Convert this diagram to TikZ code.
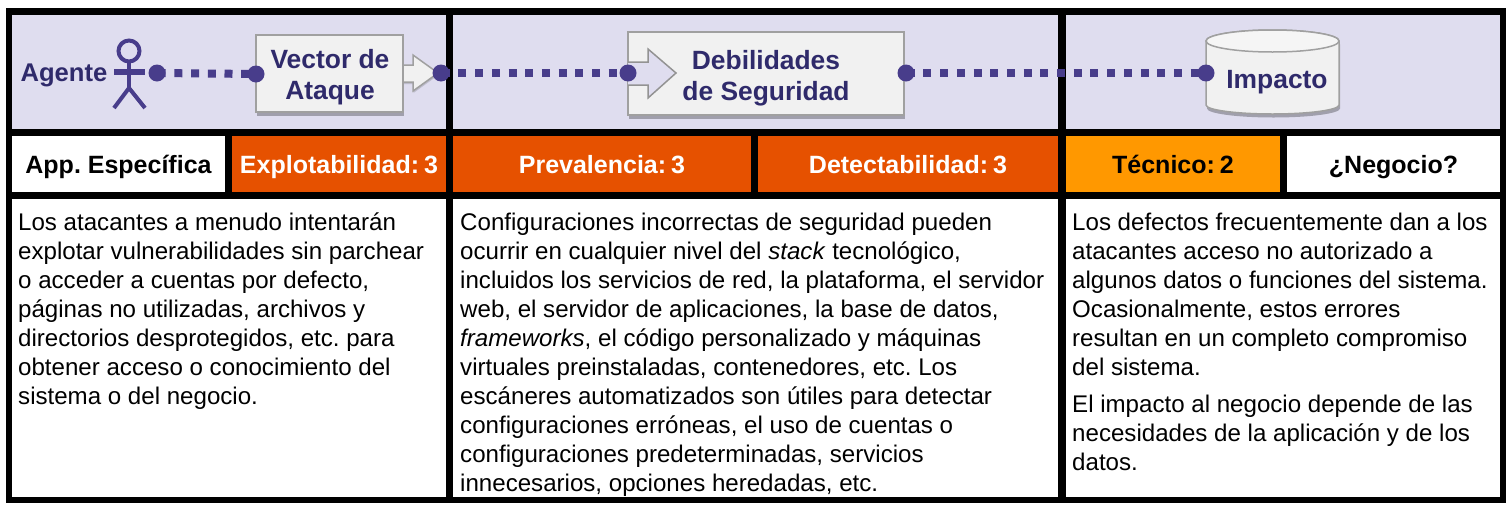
\documentclass[tikz,border=0pt]{standalone}
\usepackage{fontspec}
\setmainfont{Liberation Sans}
\usetikzlibrary{shadows}
\definecolor{bandblue}{HTML}{DFDDEF}
\definecolor{inkblue}{HTML}{2F2A6B}
\definecolor{dotblue}{HTML}{483D8B}
\definecolor{boxgray}{HTML}{F1F1F1}
\definecolor{edgegray}{HTML}{A0A0A0}
\definecolor{hotred}{HTML}{E65100}
\definecolor{amber}{HTML}{FF9800}
\newcommand{\scoregap}{\hspace{5pt}}
\tikzset{
  band/.style={fill=bandblue,draw=none},
  cell/.style={minimum height=56pt,inner sep=0pt,text height=20pt,text depth=2pt,font=\fontsize{25}{30}\selectfont\bfseries\frenchspacing},
  title/.style={text=inkblue,align=center,inner sep=0pt,font=\fontsize{26.4}{31}\selectfont\bfseries},
  body/.style={anchor=north west,align=left,inner sep=0pt,font=\fontsize{24.1}{29}\selectfont\frenchspacing},
  shade/.style={drop shadow={shadow xshift=1pt,shadow yshift=-3.5pt,opacity=.28,fill=black}},
  pin/.style={circle,fill=dotblue,minimum size=17pt,inner sep=0pt},
  dotline/.style={dotblue,line width=8pt,dash pattern=on 8pt off 8.7pt,dash phase=16pt},
  actor/.style={dotblue,line width=4pt}
}
\begin{document}
\begin{tikzpicture}[x=1pt,y=-1pt]
\useasboundingbox (0,0) rectangle (1512,509);
\fill[white] (0,0) rectangle (1512,509);
\fill[black] (6,8) rectangle (1506,503);
% top band
\fill[band] (12,15) rectangle (446,129);
\fill[band] (453,15) rectangle (1058,129);
\fill[band] (1066,15) rectangle (1500,129);
% score row
\node[cell,fill=white,minimum width=213pt] (app) at (118.5,164) {App. Específica};
\node[cell,fill=hotred,text=white,minimum width=214pt] (explot) at (339,164) {Explotabilidad:\scoregap 3};
\node[cell,fill=hotred,text=white,minimum width=298pt] (preval) at (602,164) {Prevalencia:\scoregap 3};
\node[cell,fill=hotred,text=white,minimum width=300pt] (detect) at (908,164) {Detectabilidad:\scoregap 3};
\node[cell,fill=amber,minimum width=214pt] (tecnico) at (1173,164) {Técnico:\scoregap 2};
\node[cell,fill=white,minimum width=213pt] (negocio) at (1393.5,164) {¿Negocio?};
% text row
\fill[white] (12,199) rectangle (446,497);
\fill[white] (453,199) rectangle (1058,497);
\fill[white] (1066,199) rectangle (1500,497);
\node[body] (textA) at (18,213) {Los atacantes a menudo intentarán\\
explotar vulnerabilidades sin parchear\\
o acceder a cuentas por defecto,\\
páginas no utilizadas, archivos y\\
directorios desprotegidos, etc. para\\
obtener acceso o conocimiento del\\
sistema o del negocio.};
\node[body] (textB) at (460,213) {Configuraciones incorrectas de seguridad pueden\\
ocurrir en cualquier nivel del \textit{stack} tecnológico,\\
incluidos los servicios de red, la plataforma, el servidor\\
web, el servidor de aplicaciones, la base de datos,\\
\textit{frameworks}, el código personalizado y máquinas\\
virtuales preinstaladas, contenedores, etc. Los\\
escáneres automatizados son útiles para detectar\\
configuraciones erróneas, el uso de cuentas o\\
configuraciones predeterminadas, servicios\\
innecesarios, opciones heredadas, etc.};
\node[body] (textC) at (1072,213) {Los defectos frecuentemente dan a los\\
atacantes acceso no autorizado a\\
algunos datos o funciones del sistema.\\
Ocasionalmente, estos errores\\
resultan en un completo compromiso\\
del sistema.\\[8pt]
El impacto al negocio depende de las\\
necesidades de la aplicación y de los\\
datos.};
% agent
\node[title,font=\fontsize{25.6}{31}\selectfont\bfseries] (agente) at (64,72) [yshift=-3pt] {Agente};
\draw[actor] (129,51) circle (10.5);
\draw[actor] (129,62)--(129,88);
\draw[actor,line width=5.5pt] (114,72)--(145,72);
\draw[actor] (114,108)--(129,88)--(145,108);
% boxes
\draw[fill=boxgray,draw=edgegray,line width=1.5pt,drop shadow={shadow xshift=.5pt,shadow yshift=-2pt,opacity=.15,fill=black}] (400,65)--(413,65)--(413,55)--(438,73)--(413,91)--(413,82)--(400,82)--cycle;
\node[title,draw=edgegray,line width=2pt,fill=boxgray,shade,minimum width=147pt,minimum height=77pt] (vector) at (329.5,73.5) {};
\node[title] (vectortext) at (330,77.5) {Vector de\\Ataque};
\node[title,draw=edgegray,line width=2pt,fill=boxgray,shade,minimum width=276pt,minimum height=83pt] (debil) at (766,73.5) {};
\node[title] (debiltext) at (766,78) {Debilidades\\de Seguridad};
\draw[fill=bandblue,draw=gray!85,line width=1.5pt] (628,62)--(648,62)--(648,49)--(676,73)--(648,98)--(648,85)--(628,85);
\draw[draw=edgegray,line width=1.5pt,fill=boxgray,shade] (1206,41)--(1206,105) arc[start angle=180,end angle=360,x radius=66.5,y radius=-9]--(1339,41) arc[start angle=0,end angle=180,x radius=66.5,y radius=-11]--cycle;
\draw[draw=edgegray,line width=1.5pt,fill=white!96!black] (1272.5,41) ellipse (66.5 and 11);
\node[title] (impacto) at (1277,82) {Impacto};
% connectors
\node[pin] (pinA) at (157,73) {};
\node[pin] (pinB) at (256,74) {};
\node[pin] (pinC) at (441,73) {};
\node[pin] (pinD) at (628,73) {};
\node[pin] (pinE) at (906,73) {};
\node[pin] (pinF) at (1206,73) {};
\draw[dotline] (pinA.center)--(pinB.center);
\draw[dotline] (pinC.center)--(pinD.center);
\draw[dotline] (pinE.center)--(pinF.center);
\end{tikzpicture}
\end{document}
